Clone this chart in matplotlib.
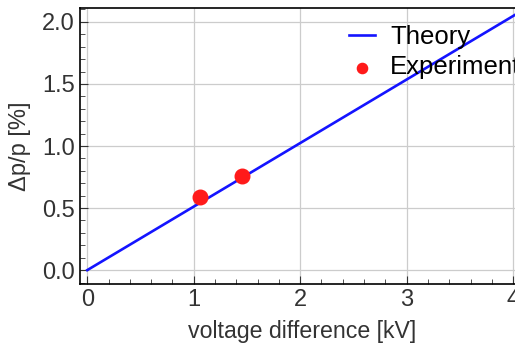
import matplotlib.pyplot as plt
from matplotlib.ticker import MultipleLocator

plt.rcParams['font.family'] = ['Liberation Sans', 'DejaVu Sans']

# theory line (linear) and measured points
theory_v = [0, 4.2]
theory_dp = [0, 2.15]
exp_v = [1.06, 1.45]
exp_dp = [0.59, 0.755]

fig = plt.figure(figsize=(5.15, 3.44), dpi=100)
ax = fig.add_axes([0.155, 0.174, 0.862, 0.802])

ax.plot(theory_v, theory_dp, color='#1414ff', lw=1.9, label='Theory', zorder=3)
ax.scatter(exp_v, exp_dp, s=110, color='#ff1a1a', label='Experiment', zorder=4)

ax.set_xlim(-0.07, 4.1)
ax.set_ylim(-0.113, 2.11)
ax.xaxis.set_major_locator(MultipleLocator(1))
ax.xaxis.set_minor_locator(MultipleLocator(0.2))
ax.yaxis.set_major_locator(MultipleLocator(0.5))
ax.yaxis.set_minor_locator(MultipleLocator(0.1))
ax.set_yticks([0, 0.5, 1.0, 1.5, 2.0])
ax.set_yticklabels(['0.0', '0.5', '1.0', '1.5', '2.0'])

ax.grid(True, which='major', color='#cccccc', lw=0.9)
ax.tick_params(which='both', direction='in', top=False, right=False,
               labelsize=17, labelcolor='#333333', color='#333333')
ax.tick_params(which='major', length=6)
ax.tick_params(which='minor', length=3.5)
for s in ax.spines.values():
    s.set_linewidth(1.2)

ax.set_xlabel('voltage difference [kV]', fontsize=16.7, color='#333333', labelpad=6.5)
ax.set_ylabel('Δp/p [%]', fontsize=17, color='#333333', labelpad=8)

ax.legend(loc='upper left', bbox_to_anchor=(0.572, 0.995), frameon=False, fontsize=18.5,
          handlelength=1.0, handletextpad=0.6, labelspacing=0.25, borderaxespad=0.2,
          markerscale=0.7)

plt.savefig('out.png', dpi=100)
